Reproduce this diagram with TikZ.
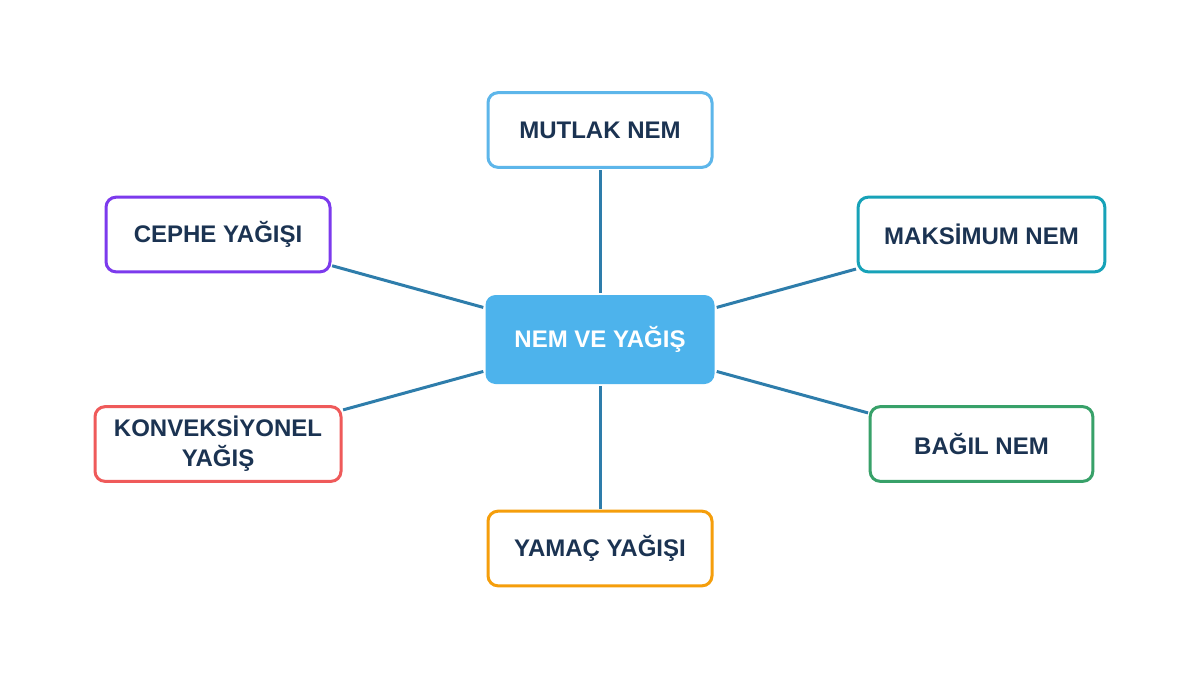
\documentclass[tikz,border=0pt]{standalone}
\usepackage{fontspec}
\setmainfont{Liberation Sans}
\definecolor{linec}{HTML}{2E7DAB}
\definecolor{centerc}{HTML}{4DB3EC}
\definecolor{txtc}{HTML}{1B3352}
\definecolor{cblue}{HTML}{5DB6EA}
\definecolor{cpurple}{HTML}{7C3AED}
\definecolor{cteal}{HTML}{17A2B8}
\definecolor{cred}{HTML}{EF5A5A}
\definecolor{cgreen}{HTML}{38A169}
\definecolor{corange}{HTML}{F59E0B}
\begin{document}
\begin{tikzpicture}[x=0.75pt,y=-0.75pt,
  leaf/.style={draw, line width=2.25pt, rounded corners=7.5pt, fill=white,
    minimum height=56pt, inner sep=0pt, align=center, text=txtc,
    font=\fontsize{18}{22.5}\selectfont\bfseries},
  hub/.style={fill=centerc, rounded corners=7.5pt, minimum width=171.75pt,
    minimum height=66.75pt, inner sep=0pt, text=white,
    font=\fontsize{18}{22}\selectfont\bfseries},
  link/.style={draw=linec, line width=2.25pt, shorten <=1.5pt, shorten >=0.5pt}]
\useasboundingbox (0,0) rectangle (1200,675);
\fill[white] (0,0) rectangle (1200,675);
\node[hub] (c) at (600,339.5) {NEM VE YAĞIŞ};
\node[leaf, draw=cblue, minimum width=168pt] (mut) at (600,130) {MUTLAK NEM};
\node[leaf, draw=cpurple, minimum width=168pt] (cep) at (218,234.5) {CEPHE YAĞIŞI};
\node[leaf, draw=cteal, minimum width=185pt] (mak) at (981.5,234.5) {MAKSİMUM NEM};
\node[leaf, draw=cred, minimum width=184.5pt] (kon) at (218,444) {KONVEKSİYONEL\\YAĞIŞ};
\node[leaf, draw=cgreen, minimum width=167pt] (bag) at (981.5,444) {BAĞIL NEM};
\node[leaf, draw=corange, minimum width=168pt] (yam) at (600,548.5) {YAMAÇ YAĞIŞI};
\draw[link] (c) -- (mut);
\draw[link] (c) -- (cep);
\draw[link] (c) -- (mak);
\draw[link] (c) -- (kon);
\draw[link] (c) -- (bag);
\draw[link] (c) -- (yam);
\end{tikzpicture}
\end{document}
